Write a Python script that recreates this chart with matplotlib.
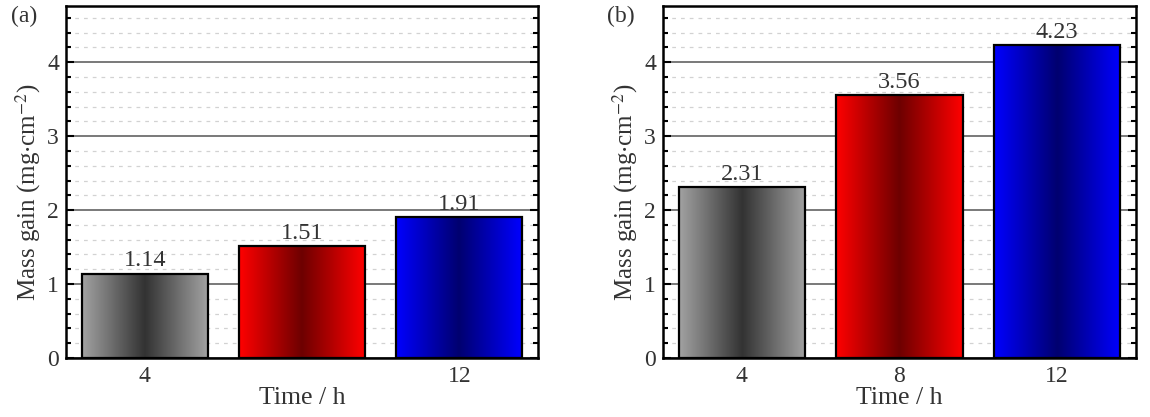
import matplotlib

matplotlib.use("Agg")

import matplotlib.pyplot as plt
import numpy as np
from matplotlib.colors import LinearSegmentedColormap
from matplotlib.ticker import MultipleLocator

plt.rcParams["font.family"] = ["Liberation Serif", "DejaVu Serif"]
plt.rcParams["mathtext.fontset"] = "stix"

times = ["4", "8", "12"]
gain_a = [1.14, 1.51, 1.91]
gain_b = [2.31, 3.56, 4.23]
tick_labels_a = ["4", "", "12"]
tick_labels_b = ["4", "8", "12"]
panel_names = ["(a)", "(b)"]

# edge colour, centre colour of each bar's horizontal gradient
BAR_GRADIENTS = [
    ("#a2a2a2", "#333333"),
    ("#ff0000", "#6e0000"),
    ("#0000ff", "#000070"),
]


def gradient_bars(ax, values):
    x = np.arange(len(values))
    bars = ax.bar(x, values, width=0.8, facecolor="none", edgecolor="black",
                  linewidth=1.6, zorder=4)
    ramp = np.abs(np.linspace(-1, 1, 256))[None, :]
    for bar, (edge, mid) in zip(bars, BAR_GRADIENTS):
        cmap = LinearSegmentedColormap.from_list("g", [mid, edge])
        x0 = bar.get_x()
        ax.imshow(ramp, cmap=cmap, aspect="auto", interpolation="bicubic",
                  extent=(x0, x0 + bar.get_width(), 0, bar.get_height()),
                  zorder=3)
        ax.text(bar.get_x() + bar.get_width() / 2, bar.get_height() + 0.03,
                f"{bar.get_height():.2f}", ha="center", va="bottom",
                fontsize=17.5, color="#333333", zorder=5)
    return x


fig = plt.figure(figsize=(11.5, 4.17), dpi=100)
ax_a = fig.add_axes((66 / 1150, 1 - 358 / 417, 472 / 1150, 352 / 417))
ax_b = fig.add_axes((663 / 1150, 1 - 358 / 417, 473 / 1150, 352 / 417))

for ax, vals, labels, name in zip([ax_a, ax_b], [gain_a, gain_b],
                                  [tick_labels_a, tick_labels_b], panel_names):
    x = gradient_bars(ax, vals)
    ax.set_xlim(-0.5, 2.5)
    ax.set_ylim(0, 4.76)
    ax.set_xticks(x)
    ax.set_xticklabels(labels)
    ax.yaxis.set_major_locator(MultipleLocator(1))
    ax.yaxis.set_minor_locator(MultipleLocator(0.2))
    ax.tick_params(axis="y", which="both", direction="in", left=True,
                   right=True, labelsize=17, width=1.5, pad=5,
                   labelcolor="#333333")
    ax.tick_params(axis="y", which="major", length=6)
    ax.tick_params(axis="y", which="minor", length=3.5)
    ax.tick_params(axis="x", length=0, labelsize=17, pad=6,
                   labelcolor="#333333")
    ax.grid(True, axis="y", which="major", color="#555555", linewidth=1.1,
            zorder=1)
    ax.grid(True, axis="y", which="minor", color="#d2d2d2", linewidth=0.9,
            linestyle=(0, (3, 4)), zorder=1)
    ax.set_axisbelow(True)
    for sp in ax.spines.values():
        sp.set_linewidth(1.8)
        sp.set_zorder(6)
    ax.set_xlabel("Time / h", fontsize=18.5, labelpad=0, color="#333333")
    ax.set_ylabel("Mass gain (mg$\\cdot$cm$^{-2}$)", fontsize=18,
                  color="#333333")
    ax.yaxis.set_label_coords(-0.048, 0.47)
    ax.text(-0.06, 0.97, name, transform=ax.transAxes, ha="right",
            va="center", fontsize=17, color="#333333")

fig.savefig("out.png", dpi=100)
